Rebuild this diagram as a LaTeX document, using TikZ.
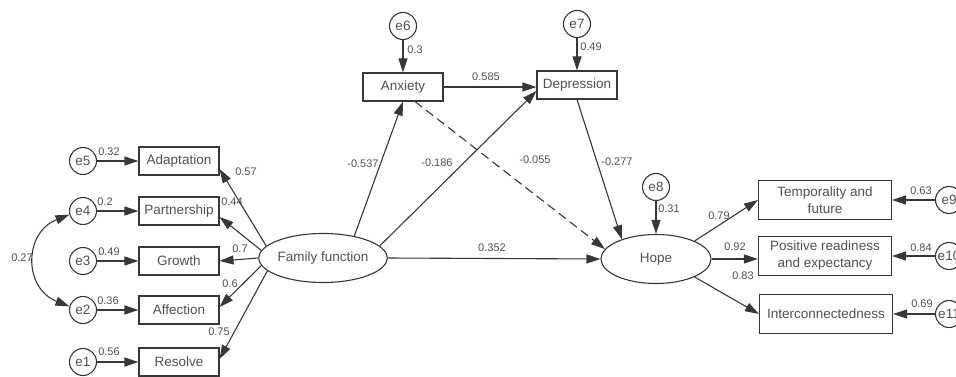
\documentclass[tikz,border=0pt]{standalone}
\usepackage{fontspec}
\setmainfont{Liberation Sans}
\usetikzlibrary{arrows.meta,calc,shapes.geometric}
\definecolor{linec}{RGB}{55,55,55}
\definecolor{txtc}{RGB}{80,80,80}
\begin{document}
\begin{tikzpicture}[x=1pt,y=-1pt,
 box/.style={draw=linec,line width=1.1pt,minimum width=80pt,minimum height=28pt,inner sep=0pt,text=txtc,font=\fontsize{13.5}{15}\selectfont},
 bigbox/.style={box,minimum width=133pt,minimum height=39pt,align=center,font=\fontsize{13.5}{17}\selectfont},
 err/.style={draw=linec,circle,line width=1.1pt,minimum size=27pt,inner sep=0pt,text=txtc,font=\fontsize{13.5}{15}\selectfont},
 lat/.style={draw=linec,ellipse,line width=1.1pt,minimum width=110pt,minimum height=49pt,inner sep=0pt,text=txtc,font=\fontsize{13.5}{15}\selectfont},
 lbl/.style={inner sep=0pt,text=txtc,font=\fontsize{11}{12}\selectfont},
 arr/.style={-{Triangle[length=14pt,width=9pt]},draw=linec,line width=1.1pt},
 arrboth/.style={{Triangle[length=14pt,width=9pt]}-{Triangle[length=14pt,width=9pt]},draw=linec,line width=1.1pt},
]
\useasboundingbox (0,0) rectangle (956,377);
\clip (0,0) rectangle (956,377);

% left error terms and indicators
\node[err] (e5) at (83,161) {e5};
\node[err] (e4) at (83,211) {e4};
\node[err] (e3) at (83,261) {e3};
\node[err] (e2) at (83,310) {e2};
\node[err] (e1) at (83,362) {e1};
\node[box] (adapt) at (179,161) {Adaptation};
\node[box] (part) at (179,211) {Partnership};
\node[box] (growth) at (179,261) {Growth};
\node[box] (affect) at (179,310) {Affection};
\node[box] (resolve) at (179,362) {Resolve};

% latent variables
\node[lat] (ff) at (323,258) {Family function};
\node[lat] (hope) at (656,259) {Hope};

% mediators
\node[err] (e6) at (403,26) {e6};
\node[box] (anx) at (403,87) {Anxiety};
\node[err] (e7) at (577,24) {e7};
\node[box] (dep) at (577,85) {Depression};
\node[err] (e8) at (656,187) {e8};

% right indicators
\node[bigbox] (temp) at (825,200) {Temporality and\\future};
\node[bigbox] (pos) at (825,256) {Positive readiness\\and expectancy};
\node[bigbox] (inter) at (826,314) {Interconnectedness};
\node[err] (e9) at (949,200) {e9};
\node[err] (e10) at (949,256) {e10};
\node[err] (e11) at (949,314) {e11};

% error arrows
\draw[arr] (e5) -- (adapt);
\draw[arr] (e4) -- (part);
\draw[arr] (e3) -- (growth);
\draw[arr] (e2) -- (affect);
\draw[arr] (e1) -- (resolve);
\draw[arr] (e6) -- (anx);
\draw[arr] (e7) -- (dep);
\draw[arr] (e8) -- (hope);
\draw[arr] (e9) -- (temp);
\draw[arr] (e10) -- (pos);
\draw[arr] (e11) -- (inter);
\draw[arrboth] (e4.195) .. controls +(-46,18) and +(-46,-18) .. (e2.165);

% loadings of family function
\draw[arr] (ff.168) -- ($(adapt.east)+(0,8)$);
\draw[arr] (ff.173) -- ($(part.east)+(0,6)$);
\draw[arr] (ff.west) -- (growth.east);
\draw[arr] (ff.187) -- ($(affect.east)+(0,-3)$);
\draw[arr] (ff.193) -- ($(resolve.east)+(0,-3)$);

% structural paths
\draw[arr] (ff.35) -- (anx.south);
\draw[arr] (ff.12) -- ($(dep.west)+(0,6)$);
\draw[arr] (anx.east) -- (anx.east -| dep.west);
\draw[arr,dash pattern=on 9pt off 5pt] ($(anx.south)+(12,0)$) -- (hope.169);
\draw[arr] (dep.south) -- (hope.150);
\draw[arr] (ff.east) -- (hope.west);

% loadings of hope
\draw[arr] (hope.25) -- (temp.west);
\draw[arr] (hope.east) -- (hope.east -| pos.west);
\draw[arr] (hope.-25) -- (inter.west);

% labels
\node[lbl] (l1) at (109,152) {0.32};
\node[lbl] (l2) at (105,202) {0.2};
\node[lbl] (l3) at (109,252) {0.49};
\node[lbl] (l4) at (108,301) {0.36};
\node[lbl] (l5) at (109,352) {0.56};
\node[lbl] (l6) at (22,258) {0.27};
\node[lbl] (l7) at (246,172) {0.57};
\node[lbl] (l8) at (232,202) {0.44};
\node[lbl] (l9) at (240,249) {0.7};
\node[lbl] (l10) at (230,284) {0.6};
\node[lbl] (l11) at (219,332) {0.75};
\node[lbl] (l12) at (415,50) {0.3};
\node[lbl] (l13) at (591,47) {0.49};
\node[lbl] (l14) at (486,77) {0.585};
\node[lbl] (l15) at (363,164) {-0.537};
\node[lbl] (l16) at (437,163) {-0.186};
\node[lbl] (l17) at (535,160) {-0.055};
\node[lbl] (l18) at (617,162) {-0.277};
\node[lbl] (l19) at (492,248) {0.352};
\node[lbl] (l20) at (669,209) {0.31};
\node[lbl] (l21) at (719,216) {0.79};
\node[lbl] (l22) at (735,247) {0.92};
\node[lbl] (l23) at (743,276) {0.83};
\node[lbl] (l24) at (921,191) {0.63};
\node[lbl] (l25) at (921,248) {0.84};
\node[lbl] (l26) at (922,304) {0.69};
\end{tikzpicture}
\end{document}
